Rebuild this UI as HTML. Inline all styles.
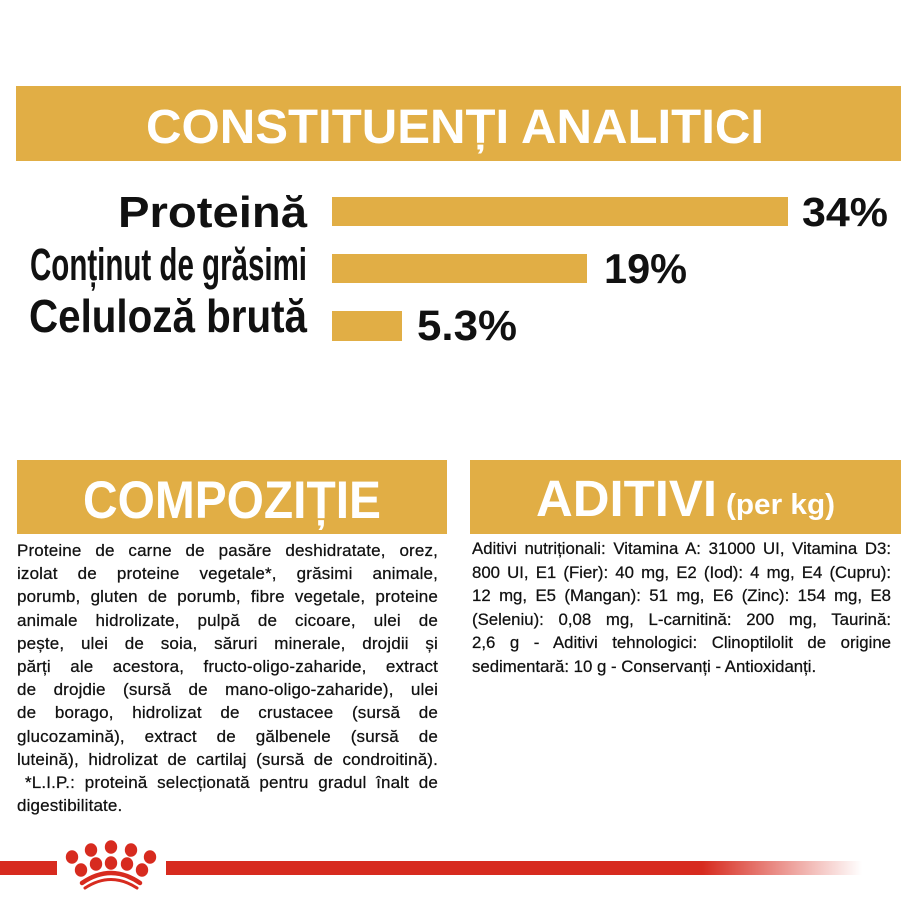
<!DOCTYPE html>
<html>
<head>
<meta charset="utf-8">
<style>
  html,body{margin:0;padding:0;background:#fff;}
  body{width:918px;height:918px;position:relative;overflow:hidden;}
  svg{position:absolute;left:0;top:0;}
  .para{position:absolute;font-family:"Liberation Sans",sans-serif;color:#111;-webkit-text-stroke:0.25px #111;}
  .para div{text-align:justify;text-align-last:justify;white-space:normal;}
  .para div.last{text-align:left;text-align-last:left;}
  #comp{left:17px;top:539px;width:421px;line-height:23.2px;letter-spacing:0.15px;font-size:17px;}
  #comp div{height:23.2px;}
  #adit{left:472px;top:537px;width:419px;line-height:23.6px;font-size:16.8px;}
  #adit div{height:23.6px;}
</style>
</head>
<body>
<svg width="918" height="918" viewBox="0 0 918 918" xmlns="http://www.w3.org/2000/svg">
  <defs>
    <linearGradient id="fade" x1="166" y1="0" x2="862" y2="0" gradientUnits="userSpaceOnUse">
      <stop offset="0" stop-color="#D72B1F" stop-opacity="1"/>
      <stop offset="0.77" stop-color="#D72B1F" stop-opacity="1"/>
      <stop offset="1" stop-color="#D72B1F" stop-opacity="0"/>
    </linearGradient>
  </defs>
  <rect x="16" y="86" width="885" height="75" fill="#E1AE45"/>
  <text x="146" y="143" font-family="Liberation Sans, sans-serif" font-weight="700" font-size="48" fill="#fff" textLength="618" lengthAdjust="spacingAndGlyphs">CONSTITUENȚI ANALITICI</text>

  <rect x="332" y="197" width="456" height="29" fill="#E1AE45"/>
  <rect x="332" y="254" width="255" height="29" fill="#E1AE45"/>
  <rect x="332" y="311" width="70" height="30" fill="#E1AE45"/>

  <g font-family="Liberation Sans, sans-serif" font-weight="700" fill="#111">
    <text x="118" y="227" font-size="44" textLength="189" lengthAdjust="spacingAndGlyphs">Proteină</text>
    <text x="30" y="280" font-size="45" textLength="277" lengthAdjust="spacingAndGlyphs">Conținut de grăsimi</text>
    <text x="29" y="332" font-size="46" textLength="278" lengthAdjust="spacingAndGlyphs">Celuloză brută</text>
    <text x="802" y="226" font-size="41" textLength="86" lengthAdjust="spacingAndGlyphs">34%</text>
    <text x="604" y="283" font-size="42" textLength="83" lengthAdjust="spacingAndGlyphs">19%</text>
    <text x="417" y="340" font-size="43" textLength="100" lengthAdjust="spacingAndGlyphs">5.3%</text>
  </g>

  <rect x="17" y="460" width="430" height="74" fill="#E1AE45"/>
  <rect x="470" y="460" width="431" height="74" fill="#E1AE45"/>
  <g font-family="Liberation Sans, sans-serif" font-weight="700" fill="#fff">
    <text x="83" y="518" font-size="53" textLength="298" lengthAdjust="spacingAndGlyphs">COMPOZIȚIE</text>
    <text x="536" y="516" font-size="51" textLength="181" lengthAdjust="spacingAndGlyphs">ADITIVI</text>
    <text x="726" y="514" font-size="29" textLength="109" lengthAdjust="spacingAndGlyphs">(per kg)</text>
  </g>

  <rect x="0" y="861" width="57" height="14" fill="#D72B1F"/>
  <rect x="166" y="861" width="696" height="14" fill="url(#fade)"/>

  <g fill="#D72B1F">
    <ellipse cx="72" cy="857" rx="6.2" ry="6.8"/>
    <ellipse cx="91" cy="850" rx="6.2" ry="6.8"/>
    <ellipse cx="111" cy="847" rx="6.2" ry="6.8"/>
    <ellipse cx="131" cy="850" rx="6.2" ry="6.8"/>
    <ellipse cx="150" cy="857" rx="6.2" ry="6.8"/>
    <ellipse cx="81" cy="870" rx="6.2" ry="6.8"/>
    <ellipse cx="96" cy="864" rx="6.2" ry="6.8"/>
    <ellipse cx="111" cy="863" rx="6.2" ry="6.8"/>
    <ellipse cx="127" cy="864" rx="6.2" ry="6.8"/>
    <ellipse cx="142" cy="870" rx="6.2" ry="6.8"/>
  </g>
  <g fill="none" stroke="#D72B1F" stroke-linecap="round">
    <path d="M82,883 Q111,863 140,883" stroke-width="4.5"/>
    <path d="M85,888 Q111,871 137,888" stroke-width="3"/>
  </g>
</svg>

<div class="para" id="comp">
  <div>Proteine de carne de pasăre deshidratate, orez,</div>
  <div>izolat de proteine vegetale*, grăsimi animale,</div>
  <div>porumb, gluten de porumb, fibre vegetale, proteine</div>
  <div>animale hidrolizate, pulpă de cicoare, ulei de</div>
  <div>pește, ulei de soia, săruri minerale, drojdii și</div>
  <div>părți ale acestora, fructo-oligo-zaharide, extract</div>
  <div>de drojdie (sursă de mano-oligo-zaharide), ulei</div>
  <div>de borago, hidrolizat de crustacee (sursă de</div>
  <div>glucozamină), extract de gălbenele (sursă de</div>
  <div>luteină), hidrolizat de cartilaj (sursă de condroitină).</div>
  <div style="padding-left:8px;">*L.I.P.: proteină selecționată pentru gradul înalt de</div>
  <div class="last">digestibilitate.</div>
</div>

<div class="para" id="adit">
  <div>Aditivi nutriționali: Vitamina A: 31000 UI, Vitamina D3:</div>
  <div>800 UI, E1 (Fier): 40 mg, E2 (Iod): 4 mg, E4 (Cupru):</div>
  <div>12 mg, E5 (Mangan): 51 mg, E6 (Zinc): 154 mg, E8</div>
  <div>(Seleniu): 0,08 mg, L-carnitină: 200 mg, Taurină:</div>
  <div>2,6 g - Aditivi tehnologici: Clinoptilolit de origine</div>
  <div class="last">sedimentară: 10 g - Conservanți - Antioxidanți.</div>
</div>
</body>
</html>
